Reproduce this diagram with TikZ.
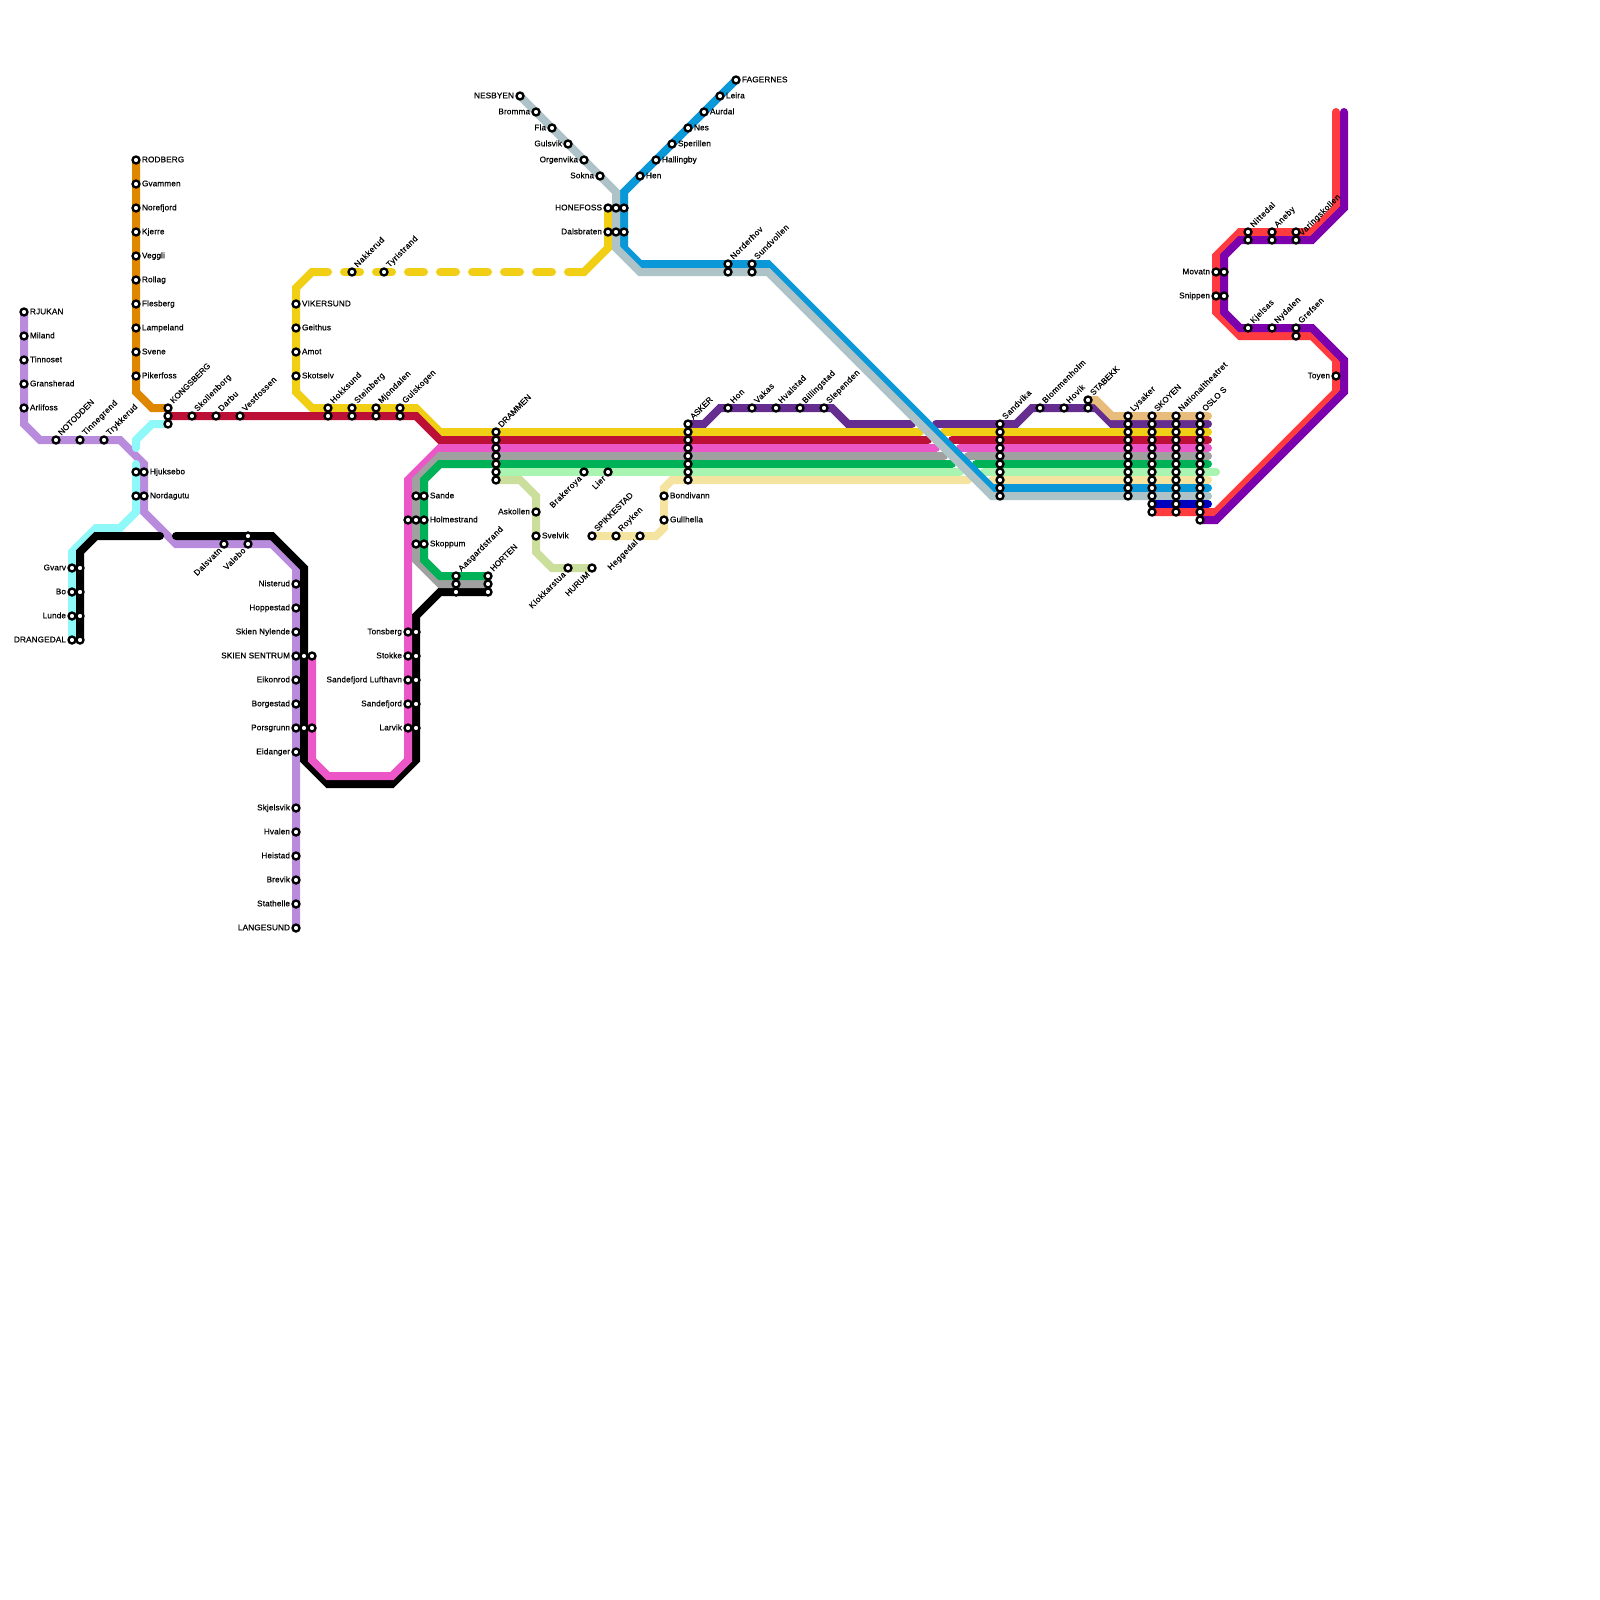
\documentclass[tikz,border=0pt]{standalone}
\usepackage{fontspec}
\newfontfamily\labfont{Liberation Sans}[FakeBold=0.42,LetterSpace=1.5]
\newfontfamily\rotfont{Liberation Sans}[FakeBold=0.42,LetterSpace=6]
\newfontfamily\capfont{Liberation Sans}[FakeBold=0.42]
\usetikzlibrary{backgrounds}
\definecolor{cOrange}{HTML}{E08700}
\definecolor{cYellow}{HTML}{F0CF14}
\definecolor{cCrimson}{HTML}{BC1037}
\definecolor{cPink}{HTML}{EC57C8}
\definecolor{cGrey}{HTML}{A0A0A0}
\definecolor{cGreen}{HTML}{00B257}
\definecolor{cMint}{HTML}{A8F4B0}
\definecolor{cCream}{HTML}{F5E3A0}
\definecolor{cBlue}{HTML}{0A98D8}
\definecolor{cSlate}{HTML}{ADC3C8}
\definecolor{cPurple}{HTML}{652D90}
\definecolor{cNavy}{HTML}{0000BE}
\definecolor{cRed}{HTML}{FF3B3F}
\definecolor{cViolet}{HTML}{7D00AD}
\definecolor{cTan}{HTML}{E8BD7C}
\definecolor{cLime}{HTML}{CCDE9B}
\definecolor{cCyan}{HTML}{8FF9FA}
\definecolor{cLav}{HTML}{B98BDC}
\tikzset{
  stn/.style={circle,draw=black,fill=white,line width=2.3pt,minimum size=7pt,inner sep=0pt,outer sep=0pt},
  lab/.style={inner sep=0pt,outer sep=0pt,text height=6pt,text depth=0pt,font=\labfont\fontsize{8.2pt}{9pt}\selectfont,text=black},
  rlab/.style={lab,font=\rotfont\fontsize{8.2pt}{9pt}\selectfont,rotate=45},
  clab/.style={lab,font=\capfont\fontsize{8.2pt}{9pt}\selectfont,rotate=45},
  ln/.style={line width=8pt,line cap=round,line join=miter,miter limit=10},
}
\newcommand{\St}[3]{\node[stn] (#1) at (#2,#3) {};}
\newcommand{\SR}[4]{\St{#1}{#2}{#3}\node[lab,anchor=west] (#1-l) at (#2+6,#3-0.7) {#4};}
\newcommand{\SL}[4]{\St{#1}{#2}{#3}\node[lab,anchor=east] (#1-l) at (#2-6,#3-0.7) {#4};}
\newcommand{\SU}[4]{\St{#1}{#2}{#3}\node[rlab,anchor=west] (#1-l) at (#2+3.4,#3-6.4) {#4};}
\newcommand{\SUC}[4]{\St{#1}{#2}{#3}\node[clab,anchor=west] (#1-l) at (#2+3.4,#3-6.4) {#4};}
\newcommand{\SD}[4]{\St{#1}{#2}{#3}\node[rlab,anchor=east] (#1-l) at (#2-4,#3+5) {#4};}
\newcommand{\SDC}[4]{\St{#1}{#2}{#3}\node[clab,anchor=east] (#1-l) at (#2-4,#3+5) {#4};}
\begin{document}
\begin{tikzpicture}[x=1pt,y=-1pt]
\useasboundingbox (0,0) rectangle (1600,1600);
% stations -----------------------------------------------------
\SR{rjukan}{24}{312}{RJUKAN}
\SR{miland}{24}{336}{Miland}
\SR{tinnoset}{24}{360}{Tinnoset}
\SR{gransherad}{24}{384}{Gransherad}
\SR{arlifoss}{24}{408}{Arlifoss}
\SUC{notodden}{56}{440}{NOTODDEN}
\SU{tinnegrend}{80}{440}{Tinnegrend}
\SU{trykkerud}{104}{440}{Trykkerud}
\St{hjukc}{136}{472}
\SR{hjuksebo}{144}{472}{Hjuksebo}
\St{nordc}{136}{496}
\SR{nordagutu}{144}{496}{Nordagutu}
\SL{gvarv}{72}{568}{Gvarv}\St{gvarvb}{80}{568}
\SL{bo}{72}{592}{Bo}\St{bob}{80}{592}
\SL{lunde}{72}{616}{Lunde}\St{lundeb}{80}{616}
\SL{drangedal}{72}{640}{DRANGEDAL}\St{drangedalb}{80}{640}
\SD{dalsvatn}{224}{544}{Dalsvatn}
\SD{valebo}{248}{544}{Valebo}\St{valebob}{248}{536}
\SL{nisterud}{296}{584}{Nisterud}
\SL{hoppestad}{296}{608}{Hoppestad}
\SL{nylende}{296}{632}{Skien Nylende}
\SL{skien}{296}{656}{SKIEN SENTRUM}\St{skienb}{304}{656}\St{skienp}{312}{656}
\SL{eikonrod}{296}{680}{Eikonrod}
\SL{borgestad}{296}{704}{Borgestad}
\SL{porsgrunn}{296}{728}{Porsgrunn}\St{porsb}{304}{728}\St{porsp}{312}{728}
\SL{eidanger}{296}{752}{Eidanger}
\SL{skjelsvik}{296}{808}{Skjelsvik}
\SL{hvalen}{296}{832}{Hvalen}
\SL{heistad}{296}{856}{Heistad}
\SL{brevik}{296}{880}{Brevik}
\SL{stathelle}{296}{904}{Stathelle}
\SL{langesund}{296}{928}{LANGESUND}
\SR{rodberg}{136}{160}{RODBERG}
\SR{gvammen}{136}{184}{Gvammen}
\SR{norefjord}{136}{208}{Norefjord}
\SR{kjerre}{136}{232}{Kjerre}
\SR{veggli}{136}{256}{Veggli}
\SR{rollag}{136}{280}{Rollag}
\SR{flesberg}{136}{304}{Flesberg}
\SR{lampeland}{136}{328}{Lampeland}
\SR{svene}{136}{352}{Svene}
\SR{pikerfoss}{136}{376}{Pikerfoss}
\SUC{kongsberg}{168}{408}{KONGSBERG}\St{kongsb}{168}{416}\St{kongsc}{168}{424}
\SU{skollenborg}{192}{416}{Skollenborg}
\SU{darbu}{216}{416}{Darbu}
\SU{vestfossen}{240}{416}{Vestfossen}
\SR{vikersund}{296}{304}{VIKERSUND}
\SR{geithus}{296}{328}{Geithus}
\SR{amot}{296}{352}{Amot}
\SR{skotselv}{296}{376}{Skotselv}
\SU{hokksund}{328}{408}{Hokksund}\St{hokkb}{328}{416}
\SU{steinberg}{352}{408}{Steinberg}\St{steinb}{352}{416}
\SU{mjondalen}{376}{408}{Mjondalen}\St{mjonb}{376}{416}
\SU{gulskogen}{400}{408}{Gulskogen}\St{gulsb}{400}{416}
\SU{nakkerud}{352}{272}{Nakkerud}
\SU{tyristrand}{384}{272}{Tyristrand}
\SUC{drammen}{496}{432}{DRAMMEN}
\foreach \y in {440,448,...,480} {\St{dr\y}{496}{\y}}
\St{sandeg}{416}{496}\SR{sande}{424}{496}{Sande}
\St{holmp}{408}{520}\St{holmg}{416}{520}\SR{holmestrand}{424}{520}{Holmestrand}
\St{skopg}{416}{544}\SR{skoppum}{424}{544}{Skoppum}
\SU{aasgard}{456}{576}{Aasgardstrand}\St{aasb}{456}{584}\St{aasc}{456}{592}
\SUC{horten}{488}{576}{HORTEN}\St{hortb}{488}{584}\St{hortc}{488}{592}
\SL{tonsberg}{408}{632}{Tonsberg}\St{tonsb}{416}{632}
\SL{stokke}{408}{656}{Stokke}\St{stokb}{416}{656}
\SL{lufthavn}{408}{680}{Sandefjord Lufthavn}\St{luftb}{416}{680}
\SL{sandefjord}{408}{704}{Sandefjord}\St{sanfb}{416}{704}
\SL{larvik}{408}{728}{Larvik}\St{larvb}{416}{728}
\SD{brakeroya}{584}{472}{Brakeroya}
\SD{lier}{608}{472}{Lier}
\SL{askollen}{536}{512}{Askollen}
\SR{svelvik}{536}{536}{Svelvik}
\SD{klokkarstua}{568}{568}{Klokkarstua}
\SDC{hurum}{592}{568}{HURUM}
\SUC{spikkestad}{592}{536}{SPIKKESTAD}
\SU{royken}{616}{536}{Royken}
\SD{heggedal}{640}{536}{Heggedal}
\SR{gullhella}{664}{520}{Gullhella}
\SR{bondivann}{664}{496}{Bondivann}
\SUC{asker}{688}{424}{ASKER}
\foreach \y in {432,440,...,480} {\St{as\y}{688}{\y}}
\SU{hon}{728}{408}{Hon}
\SU{vakas}{752}{408}{Vakas}
\SU{hvalstad}{776}{408}{Hvalstad}
\SU{billingstad}{800}{408}{Billingstad}
\SU{slependen}{824}{408}{Slependen}
\SL{nesbyen}{520}{96}{NESBYEN}
\SL{bromma}{536}{112}{Bromma}
\SL{fla}{552}{128}{Fla}
\SL{gulsvik}{568}{144}{Gulsvik}
\SL{orgenvika}{584}{160}{Orgenvika}
\SL{sokna}{600}{176}{Sokna}
\SL{honefoss}{608}{208}{HONEFOSS}\St{honb}{616}{208}\St{honc}{624}{208}
\SL{dalsbraten}{608}{232}{Dalsbraten}\St{dalb}{616}{232}\St{dalc}{624}{232}
\SR{fagernes}{736}{80}{FAGERNES}
\SR{leira}{720}{96}{Leira}
\SR{aurdal}{704}{112}{Aurdal}
\SR{nes}{688}{128}{Nes}
\SR{sperillen}{672}{144}{Sperillen}
\SR{hallingby}{656}{160}{Hallingby}
\SR{hen}{640}{176}{Hen}
\SU{norderhov}{728}{264}{Norderhov}\St{nordb}{728}{272}
\SU{sundvollen}{752}{264}{Sundvollen}\St{sundb}{752}{272}
\SU{sandvika}{1000}{424}{Sandvika}
\foreach \y in {432,440,...,496} {\St{sv\y}{1000}{\y}}
\SU{blommenholm}{1040}{408}{Blommenholm}
\SU{hovik}{1064}{408}{Hovik}
\SUC{stabekk}{1088}{400}{STABEKK}\St{stabb}{1088}{408}
\SU{lysaker}{1128}{416}{Lysaker}
\foreach \y in {424,432,...,496} {\St{ly\y}{1128}{\y}}
\SUC{skoyen}{1152}{416}{SKOYEN}
\foreach \y in {424,432,...,512} {\St{sk\y}{1152}{\y}}
\SU{nationaltheatret}{1176}{416}{Nationaltheatret}
\foreach \y in {424,432,...,512} {\St{na\y}{1176}{\y}}
\SUC{oslo}{1200}{416}{OSLO S}
\foreach \y in {424,432,...,520} {\St{os\y}{1200}{\y}}
\SU{nittedal}{1248}{232}{Nittedal}\St{nittb}{1248}{240}
\SU{aneby}{1272}{232}{Aneby}\St{anebb}{1272}{240}
\St{varingskollen}{1296}{232}\node[rlab,anchor=west] (varingskollen-l) at (1300,234) {Varingskollen};\St{varib}{1296}{240}
\SL{movatn}{1216}{272}{Movatn}\St{movb}{1224}{272}
\SL{snippen}{1216}{296}{Snippen}\St{snib}{1224}{296}
\SU{kjelsas}{1248}{328}{Kjelsas}
\SU{nydalen}{1272}{328}{Nydalen}
\SU{grefsen}{1296}{328}{Grefsen}\St{grefb}{1296}{336}
\SL{toyen}{1336}{376}{Toyen}
% free line ends
\coordinate (redtop) at (1336,112);
\coordinate (viotop) at (1344,112);
% lines -----------------------------------------------------------
\begin{pgfonlayer}{background}
\fill[white] (0,0) rectangle (1600,1600);
% lavender
\draw[ln,cLav] (rjukan.center) -- (24,424) -- (40,440) -- (120,440) -- (144,464) -- (144,512) -- (176,544) -- (272,544) -- (296,568) -- (langesund.center);
% cyan
\draw[ln,cCyan] (kongsc.center) -- (152,424) -- (136,440) -- (136,448);
\draw[ln,cCyan] (136,464) -- (136,512) -- (120,528) -- (96,528) -- (72,552) -- (drangedal.center);
% black
\draw[ln,black] (drangedalb.center) -- (80,552) -- (96,536) -- (160,536);
\draw[ln,black] (176,536) -- (272,536) -- (304,568) -- (304,760) -- (328,784) -- (392,784) -- (416,760) -- (416,616) -- (440,592) -- (hortc.center);
% orange
\draw[ln,cOrange] (rodberg.center) -- (136,392) -- (152,408) -- (kongsberg.center);
% trunk lines, west part and east part
\draw[ln,cPurple] (asker.center) -- (704,424) -- (720,408) -- (832,408) -- (848,424) -- (912,424);
\draw[ln,cPurple] (936,424) -- (1016,424) -- (1032,408) -- (1096,408) -- (1112,424) -- (1208,424);
\draw[ln,cYellow] (vikersund.center) -- (296,392) -- (312,408) -- (416,408) -- (440,432) -- (920,432);
\draw[ln,cYellow] (944,432) -- (1208,432);
\draw[ln,cCrimson] (kongsb.center) -- (416,416) -- (440,440) -- (928,440);
\draw[ln,cCrimson] (952,440) -- (1208,440);
\draw[ln,cPink] (skienp.center) -- (312,760) -- (328,776) -- (392,776) -- (408,760) -- (408,480) -- (440,448) -- (936,448);
\draw[ln,cPink] (960,448) -- (1208,448);
\draw[ln,cGrey] (hortb.center) -- (440,584) -- (416,560) -- (416,480) -- (440,456) -- (944,456);
\draw[ln,cGrey] (968,456) -- (1208,456);
\draw[ln,cGreen] (horten.center) -- (440,576) -- (424,560) -- (424,480) -- (440,464) -- (952,464);
\draw[ln,cGreen] (976,464) -- (1208,464);
\draw[ln,cMint] (dr472.center) -- (960,472);
\draw[ln,cMint] (984,472) -- (1216,472);
\draw[ln,cLime] (dr480.center) -- (520,480) -- (536,496) -- (536,552) -- (552,568) -- (hurum.center);
\draw[ln,cCream] (spikkestad.center) -- (656,536) -- (664,528) -- (664,488) -- (672,480) -- (968,480);
\draw[ln,cCream] (992,480) -- (1208,480);
% yellow dashed branch
\draw[ln,cYellow] (vikersund.center) -- (296,288) -- (312,272) -- (328,272);
\foreach \a/\b in {344/360,376/392,408/424,440/456,472/488,504/520,536/552} {\draw[ln,cYellow] (\a,272) -- (\b,272);}
\draw[ln,cYellow] (568,272) -- (584,272) -- (608,248) -- (honefoss.center);
% blue and slate
\draw[ln,cBlue] (fagernes.center) -- (624,192) -- (624,248) -- (640,264) -- (768,264) -- (992,488) -- (1208,488);
\draw[ln,cSlate] (nesbyen.center) -- (616,192) -- (616,248) -- (640,272) -- (768,272) -- (992,496) -- (1208,496);
% tan, navy
\draw[ln,cTan] (stabekk.center) -- (1096,400) -- (1112,416) -- (1208,416);
\draw[ln,cNavy] (sk504.center) -- (1208,504);
% red and violet
\draw[ln,cRed] (redtop) -- (1336,208) -- (1312,232) -- (1240,232) -- (1216,256) -- (1216,312) -- (1240,336) -- (1312,336) -- (1336,360) -- (1336,392) -- (1216,512) -- (sk512.center);
\draw[ln,cViolet] (viotop) -- (1344,208) -- (1312,240) -- (1240,240) -- (1224,256) -- (1224,312) -- (1240,328) -- (1312,328) -- (1344,360) -- (1344,392) -- (1216,520) -- (os520.center);
\end{pgfonlayer}
\end{tikzpicture}
\end{document}
